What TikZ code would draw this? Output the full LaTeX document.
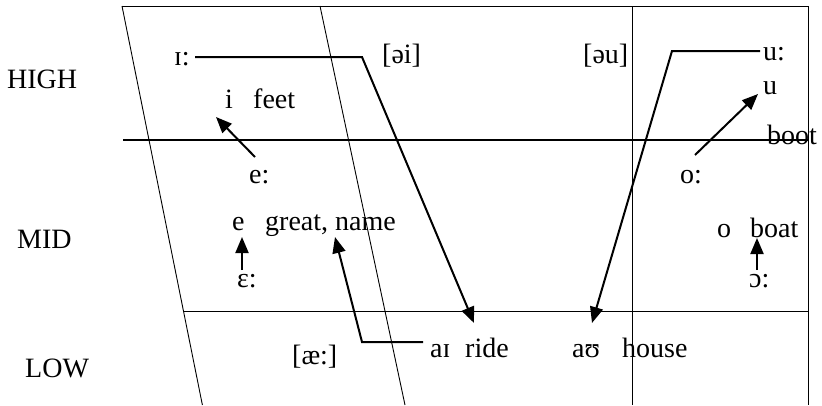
\documentclass[tikz,border=0pt]{standalone}
\usepackage{fontspec}
\setmainfont{Liberation Serif}
\usetikzlibrary{arrows.meta}
\begin{document}
\begin{tikzpicture}[x=1pt,y=-1pt,
  lbl/.style={inner sep=0pt,anchor=base west,font=\fontsize{28}{31}\selectfont},
  grid/.style={line width=0.9pt},
  gridthick/.style={line width=1.8pt},
  arr/.style={line width=2pt,-{Triangle[length=16pt,width=13pt]}}]
\useasboundingbox (0,0) rectangle (822,405);
% frame lines
\draw[grid] (122,6) -- (808,6);
\draw[grid] (122,6) -- (202.4,405);
\draw[grid] (320,6) -- (405,405);
\draw[gridthick] (123,140) -- (808,140);
\draw[grid] (184,311) -- (808,311);
\draw[grid] (632,6) -- (632,405);
\draw[grid] (808,6) -- (808,405);
% row labels
\node[lbl] (high) at (7,88) {HIGH};
\node[lbl] (mid) at (17,248) {MID};
\node[lbl] (low) at (25,377) {LOW};
% vowel labels
\node[lbl] (Ilong) at (174,65) {ɪ:};
\node[lbl] (oi) at (382,63) {[əi]};
\node[lbl] (i) at (225,108) {i};
\node[lbl] (feet) at (253,108) {feet};
\node[lbl] (elong) at (249,183) {e:};
\node[lbl] (ou) at (583,63) {[əu]};
\node[lbl] (ulong) at (763,60) {u:};
\node[lbl] (u) at (763,94) {u};
\node[lbl] (boot) at (767,144) {boot};
\node[lbl] (olong) at (680,183) {o:};
\node[lbl] (o) at (717,237) {o};
\node[lbl] (boat) at (750,237) {boat};
\node[lbl] (openo) at (749,287) {ɔ:};
\node[lbl] (e) at (232,230) {e};
\node[lbl] (great) at (265,230) {great, name};
\node[lbl] (eps) at (237,287) {ɛ:};
\node[lbl] (ae) at (292,364) {[æ:]};
\node[lbl] (ai) at (430,357) {aɪ};
\node[lbl] (ride) at (465,357) {ride};
\node[lbl] (au) at (572,357) {aʊ};
\node[lbl] (house) at (622,357) {house};
% connector end points
\coordinate (IlongEnd) at (195,57);
\coordinate (IlongBend) at (362,57);
\coordinate (aiTip) at (474,323);
\coordinate (ulongEnd) at (760,51);
\coordinate (ulongBend) at (672,51);
\coordinate (auTip) at (592,323);
\coordinate (aiStart) at (423,342);
\coordinate (aiBend) at (362,342);
\coordinate (greatTip) at (335,237);
\coordinate (elongTail) at (255,157);
\coordinate (iTip) at (216,117);
\coordinate (olongTail) at (695,155);
\coordinate (uTip) at (758,94);
\coordinate (epsTail) at (242,270);
\coordinate (eTip) at (242,237);
\coordinate (openoTail) at (757,270);
\coordinate (oTip) at (757,238);
% connectors
\draw[arr] (IlongEnd) -- (IlongBend) -- (aiTip);
\draw[arr] (ulongEnd) -- (ulongBend) -- (auTip);
\draw[arr] (aiStart) -- (aiBend) -- (greatTip);
\draw[arr] (elongTail) -- (iTip);
\draw[arr] (olongTail) -- (uTip);
\draw[arr] (epsTail) -- (eTip);
\draw[arr] (openoTail) -- (oTip);
\end{tikzpicture}
\end{document}
